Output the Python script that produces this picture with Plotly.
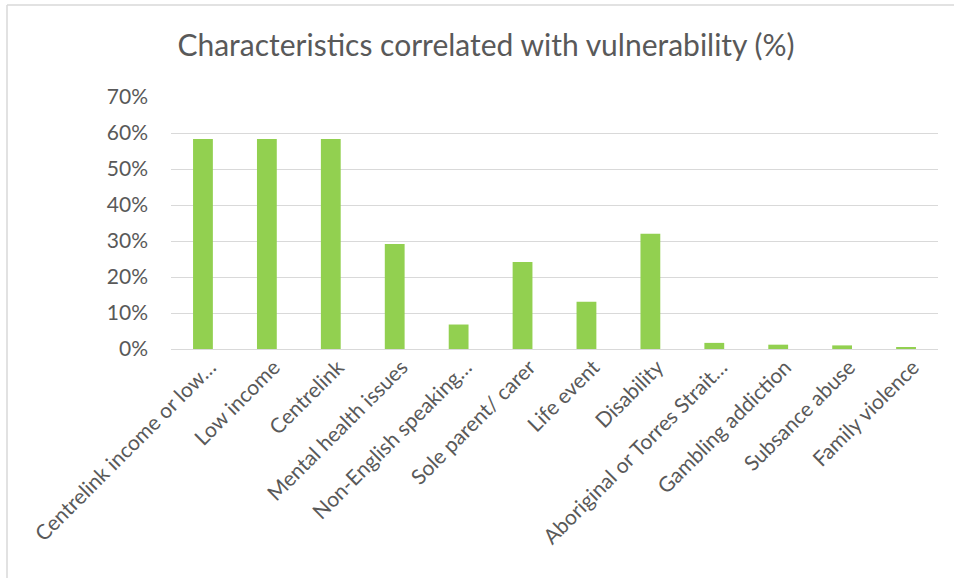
import plotly.graph_objects as go

categories = [
    "Centrelink income or low…",
    "Low income",
    "Centrelink",
    "Mental health issues",
    "Non-English speaking…",
    "Sole parent/ carer",
    "Life event",
    "Disability",
    "Aboriginal or Torres Strait…",
    "Gambling addiction",
    "Subsance abuse",
    "Family violence",
]
values = [0.583, 0.583, 0.583, 0.292, 0.068, 0.242, 0.131, 0.320, 0.017, 0.012, 0.010, 0.004]
y_ticks = [0, 0.1, 0.2, 0.3, 0.4, 0.5, 0.6, 0.7]

W, H = 954, 578
L, R, T, B = 171, 16, 97, 229

fig = go.Figure(
    go.Bar(
        x=categories,
        y=values,
        marker=dict(color="#92d050", line=dict(width=0)),
    )
)

font_family = "Lato, 'Open Sans', sans-serif"
grey = "#595959"

fig.update_layout(
    width=W,
    height=H,
    margin=dict(l=L, r=R, t=T, b=B, pad=0, autoexpand=False),
    paper_bgcolor="white",
    plot_bgcolor="white",
    bargap=0.69,
    showlegend=False,
    title=dict(
        text="Characteristics correlated with vulnerability (%)",
        x=486 / W,
        xanchor="center",
        y=1 - 45 / H,
        yanchor="middle",
        font=dict(family=font_family, size=30, color=grey),
    ),
    font=dict(family=font_family, color=grey),
)

fig.update_yaxes(
    range=[0, 0.7],
    tickvals=y_ticks,
    tickformat=".0%",
    showgrid=True,
    gridcolor="#d9d9d9",
    gridwidth=1,
    zeroline=True,
    zerolinecolor="#d9d9d9",
    zerolinewidth=1,
    showline=False,
    ticks="",
    automargin=False,
    ticklabelstandoff=22,
    tickfont=dict(family=font_family, size=21, color=grey),
)

fig.update_xaxes(
    tickangle=-45,
    showgrid=False,
    showline=False,
    ticks="",
    automargin=False,
    ticklabelstandoff=1,
    ticklabelshift=7,
    tickfont=dict(family=font_family, size=21, color=grey),
)

# chart-area frame: top edge and left edge
pw = W - L - R
ph = H - T - B
x0 = (7 - L) / pw
y_top = 1 + (T - 5) / ph
fig.add_shape(
    type="line", xref="paper", yref="paper",
    x0=x0, x1=1 + (R + 5) / pw, y0=y_top, y1=y_top,
    line=dict(color="#d9d9d9", width=1.5),
)
fig.add_shape(
    type="line", xref="paper", yref="paper",
    x0=x0, x1=x0, y0=y_top, y1=-(B + 5) / ph,
    line=dict(color="#d9d9d9", width=1.5),
)

fig.write_html("out.html")
